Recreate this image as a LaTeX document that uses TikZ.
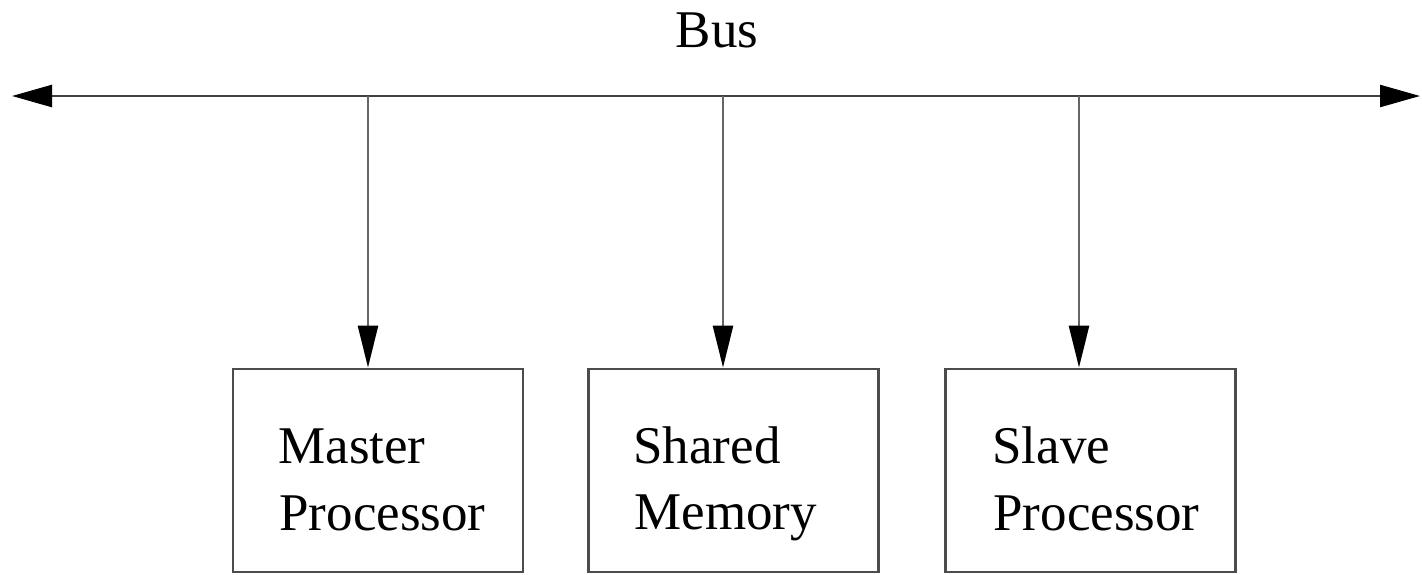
\documentclass[tikz,border=0pt]{standalone}
\usepackage{fontspec}
\setmainfont{Liberation Serif}
\usetikzlibrary{arrows.meta}
\begin{document}
\begin{tikzpicture}[x=0.5pt,y=-0.5pt,
  unitbox/.style={draw=black!70,line width=1.4pt,minimum width=145pt,minimum height=101.5pt,inner sep=0pt},
  lbl/.style={inner sep=0pt,anchor=base west,font=\fontsize{26.5pt}{33.5pt}\selectfont},
  busline/.style={draw=black!75,line width=1.2pt,{Triangle[length=20pt,width=11pt,color=black]}-{Triangle[length=20pt,width=11pt,color=black]}},
  link/.style={draw=black!60,line width=1.3pt,-{Triangle[length=21pt,width=10pt,color=black]}}]
\useasboundingbox (0,0) rectangle (1422,574);
\node[lbl,anchor=base] (bus) at (717,47) {Bus};
\coordinate (bl) at (12,96);
\coordinate (br) at (1420,96);
\draw[busline] (bl) -- (br);
\node[unitbox] (master) at (378,470.5) {};
\node[unitbox] (shared) at (733.5,470.5) {};
\node[unitbox] (slave) at (1090.5,470.5) {};
\coordinate (t1) at (368,96);
\coordinate (t2) at (723,96);
\coordinate (t3) at (1079,96);
\draw[link] (t1) -- (t1 |- master.north);
\draw[link] (t2) -- (t2 |- shared.north);
\draw[link] (t3) -- (t3 |- slave.north);
\node[lbl] (m1) at (278,463) {Master};
\node[lbl] (m2) at (279,530) {Processor};
\node[lbl] (s1) at (633,463) {Shared};
\node[lbl] (s2) at (634,529) {Memory};
\node[lbl] (v1) at (992,463) {Slave};
\node[lbl] (v2) at (993,530) {Processor};
\end{tikzpicture}
\end{document}
